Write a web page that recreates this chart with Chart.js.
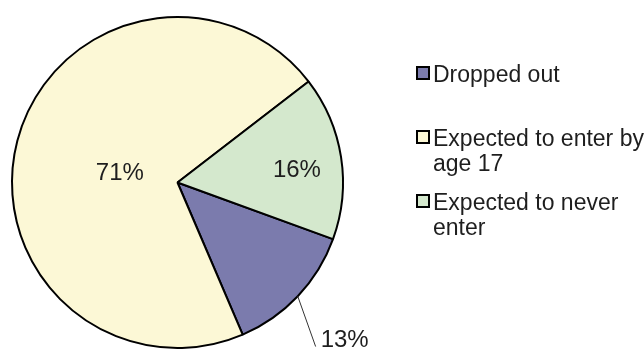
<!DOCTYPE html>
<html>
<head>
<meta charset="utf-8">
<title>Pie chart</title>
<script src="https://cdn.jsdelivr.net/npm/chart.js@4.4.1/dist/chart.umd.min.js"></script>
<style>
  html, body { margin: 0; padding: 0; background: #ffffff; }
  #wrap { width: 644px; height: 354px; }
</style>
</head>
<body>
<div id="wrap"><canvas id="pie" width="644" height="354"></canvas></div>
<script>
// Category names, one array entry per legend line
const categories = [
  ['Dropped out'],
  ['Expected to enter by', 'age 17'],
  ['Expected to never', 'enter']
];
// Share of each group, in percent
const shares = [13, 71, 16];
// Text printed on each slice
const valueLabels = ['13%', '71%', '16%'];

const sliceColors = ['#7b7bad', '#fcf8d6', '#d4e8cd'];
const FONT = "'Liberation Sans', Arial, sans-serif";
const TEXT = '#1e1e1e';

// Where each value label sits, as a fraction of the radius along the slice's mid angle.
// Values above 1 are drawn outside the pie with a leader line.
const labelRadius = [1.39, 0.36, 0.73];
const insideNudgeY = 6;

const sliceLabelPlugin = {
  id: 'sliceLabels',
  afterDatasetsDraw(chart) {
    const ctx = chart.ctx;
    const meta = chart.getDatasetMeta(0);
    ctx.save();
    ctx.font = '24px ' + FONT;
    ctx.fillStyle = TEXT;
    ctx.textAlign = 'center';
    ctx.textBaseline = 'middle';
    meta.data.forEach((arc, i) => {
      const p = arc.getProps(['x', 'y', 'startAngle', 'endAngle', 'outerRadius'], true);
      const mid = (p.startAngle + p.endAngle) / 2;
      const f = labelRadius[i];
      const text = valueLabels[i];
      let lx = p.x + Math.cos(mid) * p.outerRadius * f;
      let ly = p.y + Math.sin(mid) * p.outerRadius * f;
      if (f > 1) {
        const w = ctx.measureText(text).width;
        const ex = lx - w / 2 - 5;
        const ey = ly + 6;
        ctx.save();
        ctx.strokeStyle = '#333333';
        ctx.lineWidth = 1;
        ctx.beginPath();
        ctx.moveTo(p.x + Math.cos(mid) * p.outerRadius, p.y + Math.sin(mid) * p.outerRadius);
        ctx.lineTo(ex, ey);
        ctx.stroke();
        ctx.restore();
      } else {
        ly += insideNudgeY;
      }
      ctx.fillText(text, lx, ly);
    });
    ctx.restore();
  }
};

// Legend on the right: swatch plus one or two lines of text per entry
const sideLegendPlugin = {
  id: 'sideLegend',
  afterDraw(chart) {
    const ctx = chart.ctx;
    const labels = chart.data.labels;
    const colors = chart.data.datasets[0].backgroundColor;
    const boxX = 417, textX = 433, firstBaseline = 82, entryGap = 64, lineHeight = 25, box = 12;
    ctx.save();
    ctx.font = '23px ' + FONT;
    ctx.fillStyle = TEXT;
    ctx.textAlign = 'left';
    ctx.textBaseline = 'alphabetic';
    labels.forEach((lines, i) => {
      const base = firstBaseline + i * entryGap;
      ctx.fillStyle = colors[i];
      ctx.fillRect(boxX, base - 15, box, box);
      ctx.strokeStyle = '#000000';
      ctx.lineWidth = 2;
      ctx.strokeRect(boxX, base - 15, box, box);
      ctx.fillStyle = TEXT;
      [].concat(lines).forEach((line, j) => {
        ctx.fillText(line, textX, base + j * lineHeight);
      });
    });
    ctx.restore();
  }
};

new Chart(document.getElementById('pie'), {
  type: 'pie',
  data: {
    labels: categories,
    datasets: [{
      data: shares,
      backgroundColor: sliceColors,
      borderColor: '#000000',
      borderWidth: 2
    }]
  },
  options: {
    responsive: false,
    animation: false,
    devicePixelRatio: 1,
    rotation: 110,
    layout: { padding: { left: 11, top: 16, right: 300, bottom: 5 } },
    plugins: {
      legend: { display: false },
      tooltip: { enabled: false }
    }
  },
  plugins: [sliceLabelPlugin, sideLegendPlugin]
});
</script>
</body>
</html>
